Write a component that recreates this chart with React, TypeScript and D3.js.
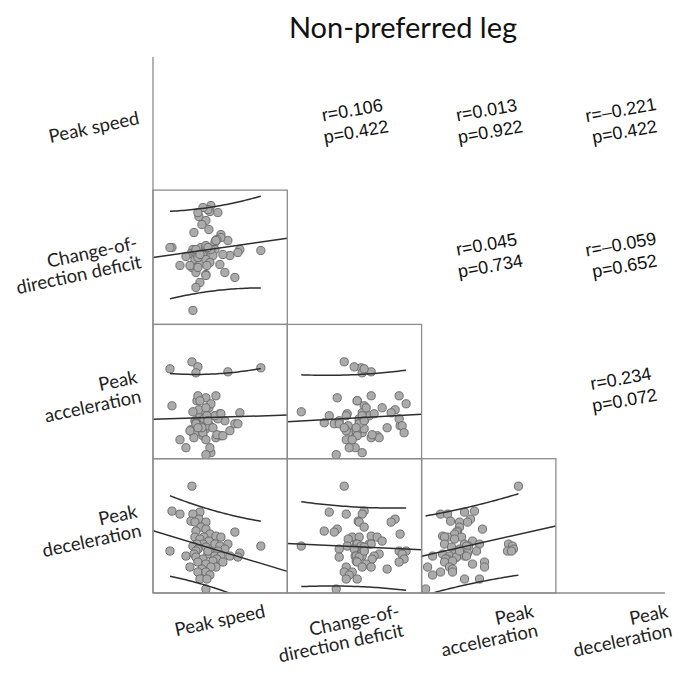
import React, { useEffect, useRef } from "react";
import * as d3 from "d3";

const W = 678;
const H = 674;

const chartTitle = "Non-preferred leg";
const axisLabels = [
  ["Peak speed"],
  ["Change-of-", "direction deficit"],
  ["Peak", "acceleration"],
  ["Peak", "deceleration"],
];

// one entry per player (n = 60), same order in every array
const peakSpeed = [
  23.9, 21.9, 24.7, 22.7, 24.0, 24.6, 23.8, 24.2, 25.3, 24.8,
  25.3, 24.3, 28.2, 25.7, 26.3, 24.2, 26.8, 25.1, 24.7, 25.6,
  26.2, 25.0, 27.5, 24.4, 24.0, 26.7, 30.8, 25.3, 24.5, 27.2,
  24.3, 21.7, 25.8, 26.5, 28.7, 24.1, 25.5, 23.3, 26.2, 26.8,
  27.7, 24.3, 28.5, 25.0, 26.4, 26.0, 24.5, 27.0, 25.3, 23.7,
  26.3, 25.8, 24.9, 24.5, 25.3, 25.7, 24.7, 25.4, 25.3, 25.5,
];
const codDeficit = [
  0.60, 0.80, 0.45, 0.62, 0.78, 1.11, 0.74, 0.75, 1.07, 0.80,
  0.53, 0.40, 0.50, 1.16, 0.87, 0.68, 0.93, 0.75, 0.64, 0.98,
  0.85, 0.72, 0.87, 0.73, 0.17, 0.63, 0.77, 0.80, 0.70, 0.55,
  0.78, 0.80, 1.22, 1.15, 0.78, 0.95, 1.18, 0.71, 0.78, 0.90,
  0.72, 0.55, 0.75, 1.20, 0.88, 0.72, 1.15, 0.73, 0.82, 0.62,
  0.87, 0.78, 1.03, 0.60, 0.68, 0.65, 0.73, 0.62, 0.52, 0.80,
];
const peakAccel = [
  7.20, 5.00, 4.50, 3.30, 3.65, 4.80, 3.80, 4.25, 4.65, 4.25,
  5.40, 4.15, 4.10, 4.00, 3.40, 3.65, 3.50, 4.35, 4.00, 4.90,
  4.50, 3.50, 6.70, 5.25, 4.70, 4.60, 6.90, 3.85, 6.95, 4.25,
  6.65, 6.85, 5.10, 4.35, 4.65, 3.40, 4.00, 2.90, 4.50, 4.60,
  3.75, 4.10, 4.10, 3.65, 3.55, 3.90, 5.50, 3.50, 4.90, 3.75,
  5.50, 2.65, 3.90, 3.90, 3.30, 2.90, 5.25, 4.50, 2.55, 4.25,
];
const peakDecel = [
  7.35, 6.10, 6.05, 5.95, 5.95, 5.70, 5.60, 5.55, 5.55, 5.30,
  5.20, 5.10, 5.05, 4.95, 4.85, 4.80, 4.80, 4.80, 4.70, 4.60,
  4.45, 4.45, 4.45, 4.45, 4.35, 4.35, 4.35, 4.30, 4.20, 4.20,
  4.10, 4.10, 4.10, 4.10, 4.00, 3.95, 3.95, 3.85, 3.85, 3.85,
  3.85, 3.80, 3.80, 3.70, 3.70, 3.60, 3.55, 3.55, 3.45, 3.30,
  3.30, 3.30, 3.20, 3.05, 3.05, 2.90, 2.70, 2.70, 2.20, 4.10,
];

const varDomains = [
  [20, 33.45],
  [0.03, 1.375],
  [2.35, 9.075],
  [2, 8.725],
];

// upper triangle: Pearson r and p for each pair
const corrRow = [0, 0, 0, 1, 1, 2];
const corrCol = [1, 2, 3, 2, 3, 3];
const corrR = ["0.106", "0.013", "\u20130.221", "0.045", "\u20130.059", "0.234"];
const corrP = ["0.422", "0.922", "0.422", "0.734", "0.652", "0.072"];

export default function App() {
  const svgRef = useRef<SVGSVGElement>(null);

  useEffect(() => {
    const svg = d3.select(svgRef.current);
    svg.selectAll("*").remove();

    const vars = [peakSpeed, codDeficit, peakAccel, peakDecel];
    const left = 153;
    const bottom = 593;
    const cell = 134.3;
    const colX = (c: number) => left + c * cell;
    const rowY = (r: number) => bottom - (4 - r) * cell;
    const frame = "#8c8c8c";
    const labelFont = "Lato, 'Noto Sans', sans-serif";
    const tCrit = 2.0017; // t(0.975, 58)

    svg.append("rect").attr("width", W).attr("height", H).attr("fill", "#fff");

    svg.append("text")
      .attr("x", 403).attr("y", 38)
      .attr("text-anchor", "middle")
      .style("font-family", labelFont)
      .style("font-size", "29px")
      .attr("fill", "#111")
      .text(chartTitle);

    const defs = svg.append("defs");

    for (let r = 1; r < 4; r++) {
      for (let c = 0; c < r; c++) {
        const x0 = colX(c);
        const y0 = rowY(r);
        const xs = vars[c];
        const ys = vars[r];
        const x = d3.scaleLinear().domain(varDomains[c]).range([x0, x0 + cell]);
        const y = d3.scaleLinear().domain(varDomains[r]).range([y0 + cell, y0]);

        const id = `clip-${r}-${c}`;
        defs.append("clipPath").attr("id", id)
          .append("rect").attr("x", x0).attr("y", y0).attr("width", cell).attr("height", cell);

        const g = svg.append("g").attr("clip-path", `url(#${id})`);

        g.selectAll("circle")
          .data(d3.range(xs.length))
          .enter().append("circle")
          .attr("cx", i => x(xs[i]))
          .attr("cy", i => y(ys[i]))
          .attr("r", 4.1)
          .attr("fill", "#ababab")
          .attr("stroke", "#6e6e6e")
          .attr("stroke-width", 1);

        // least squares fit and 95% prediction interval
        const n = xs.length;
        const mx = d3.mean(xs) as number;
        const my = d3.mean(ys) as number;
        let sxx = 0, sxy = 0;
        for (let i = 0; i < n; i++) {
          sxx += (xs[i] - mx) ** 2;
          sxy += (xs[i] - mx) * (ys[i] - my);
        }
        const b = sxy / sxx;
        const a = my - b * mx;
        let sse = 0;
        for (let i = 0; i < n; i++) sse += (ys[i] - a - b * xs[i]) ** 2;
        const s = Math.sqrt(sse / (n - 2));

        const line = d3.line<number[]>().x(d => x(d[0])).y(d => y(d[1]));
        const dom = varDomains[c];
        g.append("path")
          .attr("d", line([[dom[0], a + b * dom[0]], [dom[1], a + b * dom[1]]]))
          .attr("fill", "none").attr("stroke", "#2e2e2e").attr("stroke-width", 1.5);

        const [xmin, xmax] = d3.extent(xs) as [number, number];
        const grid = d3.range(41).map(k => xmin + (xmax - xmin) * k / 40);
        [-1, 1].forEach(sign => {
          const pts = grid.map(v => {
            const h = tCrit * s * Math.sqrt(1 + 1 / n + (v - mx) ** 2 / sxx);
            return [v, a + b * v + sign * h];
          });
          g.append("path")
            .attr("d", line(pts))
            .attr("fill", "none").attr("stroke", "#2e2e2e").attr("stroke-width", 1.5);
        });

        svg.append("rect")
          .attr("x", x0).attr("y", y0).attr("width", cell).attr("height", cell)
          .attr("fill", "none").attr("stroke", frame).attr("stroke-width", 1.3);
      }
    }

    // outer axis lines
    svg.append("line")
      .attr("x1", left).attr("x2", left).attr("y1", 57).attr("y2", bottom)
      .attr("stroke", frame).attr("stroke-width", 1.3);
    svg.append("line")
      .attr("x1", left).attr("x2", 665).attr("y1", bottom).attr("y2", bottom)
      .attr("stroke", frame).attr("stroke-width", 1.3);

    // correlation text
    corrR.forEach((rv, k) => {
      const cx = colX(corrCol[k]) + cell / 2;
      const cy = rowY(corrRow[k]) + cell / 2;
      const t = svg.append("g")
        .attr("transform", `translate(${cx},${cy}) rotate(-10)`)
        .style("font-family", "'Liberation Sans', Arial, sans-serif")
        .style("font-size", "18px")
        .attr("fill", "#111")
        .attr("text-anchor", "middle");
      t.append("text").attr("y", -7).text(`r=${rv}`);
      t.append("text").attr("y", 15).text(`p=${corrP[k]}`);
    });

    // row labels
    axisLabels.forEach((lines, r) => {
      const cy = rowY(r) + cell / 2;
      const g = svg.append("g")
        .attr("transform", `translate(140,${cy}) rotate(-12)`)
        .style("font-family", labelFont)
        .style("font-size", "18.5px")
        .attr("fill", "#222")
        .attr("text-anchor", "end");
      lines.forEach((ln, i) => {
        g.append("text").attr("y", (i - (lines.length - 1) / 2) * 19.5 + 1).text(ln);
      });
    });

    // column labels
    axisLabels.forEach((lines, c) => {
      const cx = colX(c) + cell / 2 + 46;
      const g = svg.append("g")
        .attr("transform", `translate(${cx},617) rotate(-12)`)
        .style("font-family", labelFont)
        .style("font-size", "18.5px")
        .attr("fill", "#222")
        .attr("text-anchor", "end");
      lines.forEach((ln, i) => {
        g.append("text").attr("y", i * 19.5).text(ln);
      });
    });
  }, []);

  return (
    <svg
      ref={svgRef}
      width={W}
      height={H}
      style={{ position: "absolute", left: 0, top: 0 }}
    />
  );
}
